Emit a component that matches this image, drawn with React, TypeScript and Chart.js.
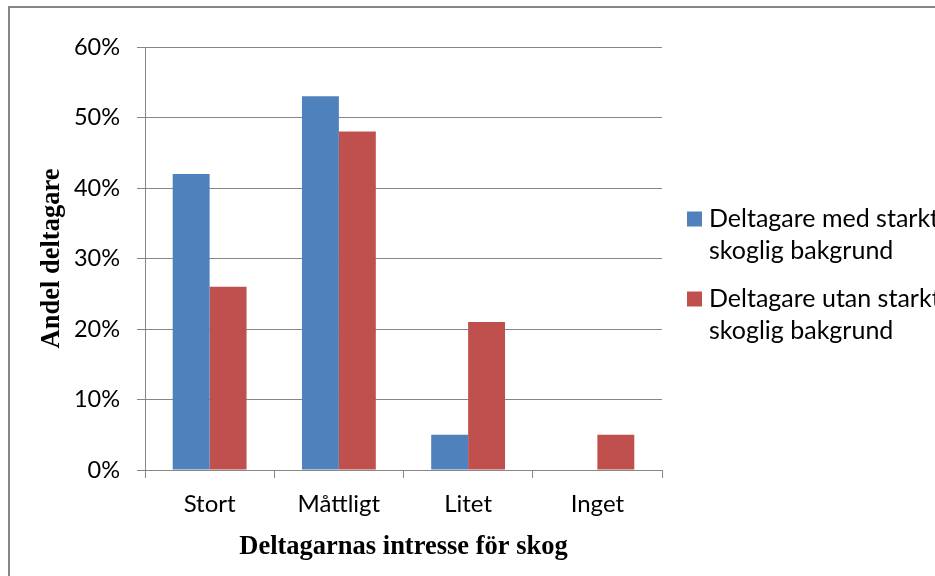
import React, { useEffect, useRef } from "react";
import { Chart, registerables } from "chart.js";

Chart.register(...registerables);

const categories = ["Stort", "Måttligt", "Litet", "Inget"];
const seriesNames = [
  ["Deltagare med starkt", "skoglig bakgrund"],
  ["Deltagare utan starkt", "skoglig bakgrund"],
];
const withBackground = [42, 53, 5, 0];
const withoutBackground = [26, 48, 21, 5];
const seriesColors = ["#4F81BD", "#C0504D"];
const yMax = 60;
const yStep = 10;
const xTitle = "Deltagarnas intresse för skog";
const yTitle = "Andel deltagare";

const SANS = "Lato, 'Noto Sans', sans-serif";
const SERIF = "'Liberation Serif', 'DejaVu Serif', serif";
const GRAY = "#868686";

const framePlugin = {
  id: "frame",
  beforeDraw(chart: any) {
    const ctx = chart.ctx;
    ctx.save();
    ctx.fillStyle = "#ffffff";
    ctx.fillRect(0, 0, chart.width, chart.height);
    ctx.strokeStyle = GRAY;
    ctx.lineWidth = 2;
    ctx.strokeRect(9, 7, chart.width + 20, chart.height + 20);
    ctx.restore();
  },
};

const sideLegend = {
  id: "sideLegend",
  afterDraw(chart: any) {
    const ctx = chart.ctx;
    ctx.save();
    ctx.font = `25px ${SANS}`;
    ctx.textBaseline = "middle";
    ctx.textAlign = "left";
    chart.data.datasets.forEach((ds: any, i: number) => {
      const y0 = 219 + i * 80;
      ctx.fillStyle = ds.backgroundColor;
      ctx.fillRect(687, y0 - 7.5, 15, 15);
      ctx.fillStyle = "#000000";
      seriesNames[i].forEach((line, j) => {
        ctx.fillText(line, 709, y0 + j * 32);
      });
    });
    ctx.restore();
  },
};

export default function App() {
  const ref = useRef<HTMLCanvasElement | null>(null);
  useEffect(() => {
    if (!ref.current) return;
    const chart = new Chart(ref.current, {
      type: "bar",
      data: {
        labels: categories,
        datasets: [
          {
            label: seriesNames[0].join(" "),
            data: withBackground,
            backgroundColor: seriesColors[0],
            borderWidth: 0,
            categoryPercentage: 2 / 3.5,
            barPercentage: 1,
          },
          {
            label: seriesNames[1].join(" "),
            data: withoutBackground,
            backgroundColor: seriesColors[1],
            borderWidth: 0,
            categoryPercentage: 2 / 3.5,
            barPercentage: 1,
          },
        ],
      },
      options: {
        responsive: false,
        animation: false,
        devicePixelRatio: 1,
        layout: { padding: { top: 47, right: 273, left: 0, bottom: 0 } },
        plugins: {
          legend: { display: false },
          tooltip: { enabled: false },
          title: { display: false },
        },
        scales: {
          x: {
            afterFit: (s: any) => {
              s.height = 106;
            },
            grid: {
              display: true,
              drawOnChartArea: false,
              drawTicks: true,
              tickLength: 8,
              color: GRAY,
              offset: true,
            },
            border: { display: true, color: GRAY, width: 1 },
            ticks: {
              color: "#000000",
              font: { family: SANS, size: 24 },
              padding: 12,
              maxRotation: 0,
            },
            title: {
              display: true,
              text: xTitle,
              color: "#000000",
              font: { family: SERIF, size: 26.5, weight: "bold" },
              padding: { top: 0, bottom: 13 },
            },
          },
          y: {
            min: 0,
            max: yMax,
            afterFit: (s: any) => {
              s.width = 145;
            },
            grid: {
              color: GRAY,
              tickLength: 8,
              drawTicks: true,
            },
            border: { display: true, color: GRAY, width: 1 },
            ticks: {
              stepSize: yStep,
              color: "#000000",
              font: { family: SANS, size: 23.5 },
              padding: 17,
              callback: (v: any) => `${v}%`,
            },
            title: {
              display: true,
              text: yTitle,
              color: "#000000",
              font: { family: SERIF, size: 26.5, weight: "bold" },
              padding: { top: 36, bottom: 0 },
            },
          },
        },
      },
      plugins: [framePlugin, sideLegend],
    });
    return () => chart.destroy();
  }, []);
  return (
    <div style={{ position: "fixed", left: 0, top: 0, width: 935, height: 576 }}>
      <canvas ref={ref} width={935} height={576} style={{ display: "block" }} />
    </div>
  );
}
